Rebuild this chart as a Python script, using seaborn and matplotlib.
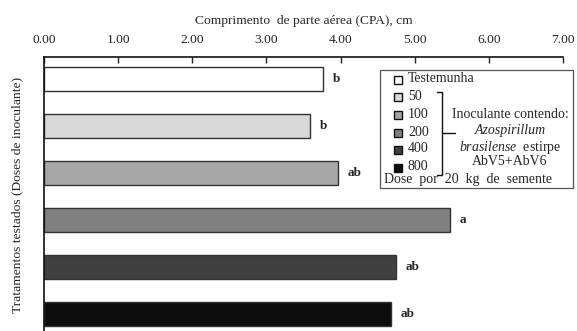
import matplotlib
matplotlib.use("Agg")
import matplotlib.pyplot as plt
import seaborn as sns
import pandas as pd
from matplotlib.patches import Rectangle
from matplotlib.lines import Line2D

# data
treatments = ["Testemunha", "50", "100", "200", "400", "800"]
cpa = [3.76, 3.59, 3.96, 5.48, 4.75, 4.68]
letters = ["b", "b", "ab", "a", "ab", "ab"]
colors = ["#ffffff", "#d9d9d9", "#a6a6a6", "#808080", "#404040", "#0d0d0d"]

df = pd.DataFrame({"Tratamento": treatments, "CPA": cpa})

sns.set_style("white")
plt.rcParams["font.family"] = ["Liberation Serif", "DejaVu Serif"]
plt.rcParams["mathtext.fontset"] = "custom"
plt.rcParams["mathtext.it"] = "Liberation Serif:italic"
plt.rcParams["mathtext.rm"] = "Liberation Serif"

W, H = 577, 331
fig = plt.figure(figsize=(W / 100, H / 100), dpi=100)
# axes box in pixels: left 44, right 563, top 57, bottom at image bottom
ax = fig.add_axes([44 / W, 0, (563 - 44) / W, 1 - 57 / H])

sns.barplot(data=df, y="Tratamento", x="CPA", hue="Tratamento", palette=colors,
            order=treatments, width=0.51, edgecolor="#333333", linewidth=1.0,
            legend=False, ax=ax)

ax.set_xlim(0, 7)
ax.set_ylim(5.37, -0.46)
ax.xaxis.tick_top()
ax.xaxis.set_label_position("top")
ax.set_xticks(range(8))
ax.set_xticklabels([f"{v:.2f}" for v in range(8)], fontsize=9.7)
ax.set_yticks([i + 0.5 for i in range(5)])
ax.set_yticklabels([])
ax.tick_params(axis="x", direction="in", length=4, width=1, pad=8,
               top=True, bottom=False, colors="#222222")
ax.tick_params(axis="y", direction="in", length=4, width=1)
ax.set_xlabel("Comprimento  de parte aérea (CPA), cm", fontsize=9.7, labelpad=7)
ax.set_ylabel("")
for s in ["right", "bottom"]:
    ax.spines[s].set_visible(False)
for s in ["top", "left"]:
    ax.spines[s].set_color("#111111")
    ax.spines[s].set_linewidth(1.2)

for i, (v, l) in enumerate(zip(cpa, letters)):
    ax.text(v + 0.13, i, l, va="center", ha="left", fontsize=9.5, fontweight="bold")

fig.text(17 / W, 1 - 195 / H, "Tratamentos testados (Doses de inoculante)",
         rotation=90, ha="center", va="center", fontsize=9.7, color="#222222")

# legend box drawn in pixel coordinates
def px(x, y):
    return x / W, 1 - y / H

x0, y0 = px(380, 188)
x1, y1 = px(573, 70)
fig.patches.append(Rectangle((x0, y0), x1 - x0, y1 - y0, transform=fig.transFigure,
                             facecolor="white", edgecolor="#555555", linewidth=0.9))

leg_y = [80, 97, 115, 133, 150, 168]
for c, lab, yy in zip(colors, treatments, leg_y):
    mx, my = px(398, yy)
    fig.add_artist(Line2D([mx], [my], marker="s", markersize=5.5, markerfacecolor=c,
                          markeredgecolor="#111111", markeredgewidth=1.0,
                          transform=fig.transFigure))
    tx, ty = px(408, yy - 1)
    fig.text(tx, ty, lab, ha="left", va="center", fontsize=10)

tx, ty = px(384, 179)
fig.text(tx, ty, "Dose  por  20  kg  de  semente", ha="left", va="center", fontsize=10)

# bracket
bx, byt = px(437, 92)
_, byb = px(437, 175)
bx2, _ = px(442, 0)
bx3, bym = px(455, 133)
fig.add_artist(Line2D([bx, bx2, bx2, bx], [byt, byt, byb, byb], color="#111111",
                      linewidth=1.0, transform=fig.transFigure))
fig.add_artist(Line2D([bx2, bx3], [bym, bym], color="#111111", linewidth=1.0,
                      transform=fig.transFigure))

cx = 510
for txt, yy, style in [("Inoculante contendo:", 114, "normal"),
                       ("Azospirillum", 131, "italic")]:
    tx, ty = px(cx, yy)
    fig.text(tx, ty, txt, ha="center", va="center", fontsize=10, style=style)
tx, ty = px(cx, 147)
fig.text(tx, ty, r"$\it{brasilense}$  estirpe", ha="center", va="center", fontsize=10)
tx, ty = px(cx, 162)
fig.text(tx, ty, "AbV5+AbV6", ha="center", va="center", fontsize=10)

fig.savefig("out.png", dpi=100)
